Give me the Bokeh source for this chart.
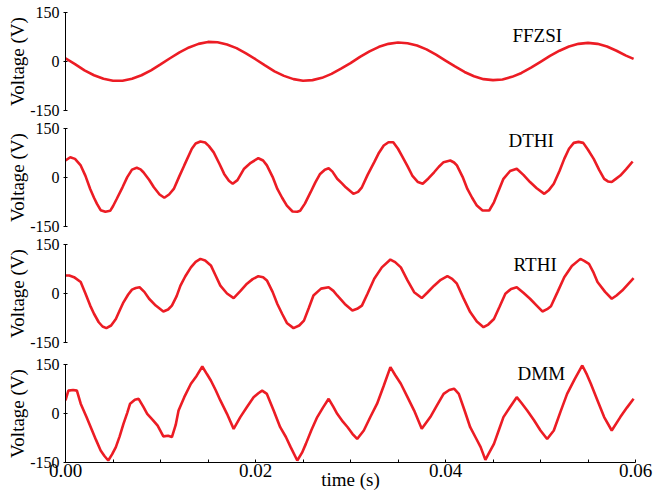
from bokeh.plotting import figure
from bokeh.layouts import column
from bokeh.models import Range1d, FixedTicker, PrintfTickFormatter, Label
from bokeh.embed import file_html
from bokeh.resources import INLINE

# ---------------- data (time in ms, voltage in V) ----------------
t_ffzsi = [0, 1, 2, 3, 4, 5, 6, 7, 8, 9, 10, 11, 12, 13, 14, 15, 16, 17, 18, 19,
           20, 21, 22, 23, 24, 25, 26, 27, 28, 29, 30, 31, 32, 33, 34, 35, 36, 37, 38, 39,
           40, 41, 42, 43, 44, 45, 46, 47, 48, 49, 50, 51, 52, 53, 54, 55, 56, 57, 58, 59, 59.8]
v_ffzsi = [10, -8, -27, -42, -53, -59, -59, -53, -42, -27, -9, 10, 28, 43, 54, 60, 59, 52, 41, 25,
           7, -12, -30, -44, -54, -59, -57, -50, -38, -22, -5, 14, 31, 45, 54, 58, 56, 49, 37, 21,
           3, -15, -32, -45, -54, -57, -55, -47, -35, -19, -1, 17, 33, 46, 54, 57, 54, 46, 33, 18, 8]

t_dthi = [0, 0.5, 1.0, 1.6, 2.1, 2.6, 3.0, 3.3, 3.7, 4.2, 4.7, 5.0, 5.4, 6.0, 6.5, 7.0, 7.5, 7.9,
          8.2, 8.8, 9.3, 9.9, 10.4, 10.9, 11.4, 12.0, 12.5, 13.3, 13.7, 14.2, 14.7, 15.1, 15.6,
          16.2, 16.7, 17.2, 17.6, 18.1, 18.8, 19.5, 20.3, 20.8, 21.2, 21.8, 22.3, 22.8, 23.3,
          23.9, 24.4, 24.7, 25.2, 25.8, 26.3, 26.8, 27.3, 27.7, 28.1, 28.6, 29.1, 29.5, 30.3,
          30.8, 31.2, 31.8, 32.5, 33.0, 33.5, 34.0, 34.5, 35.0, 35.4, 36.0, 36.5, 37.1, 37.6,
          38.2, 38.8, 39.3, 39.8, 40.5, 40.9, 41.2, 41.8, 42.3, 42.8, 43.3, 43.9, 44.6, 45.1,
          45.6, 46.1, 46.8, 47.5, 48.2, 48.9, 49.6, 50.4, 50.9, 51.4, 52.0, 52.5, 53.0, 53.5,
          54.0, 54.5, 55.0, 55.6, 56.2, 56.7, 57.1, 57.5, 57.9, 58.4, 59.0, 59.7]
v_dthi = [52, 62, 57, 37, 5, -35, -62, -80, -100, -105, -102, -88, -65, -30, 1, 24, 30, 25,
          16, -7, -30, -52, -62, -52, -35, 5, 37, 88, 104, 110, 107, 96, 77,
          42, 11, -10, -19, -8, 27, 45, 59, 52, 37, 2, -35, -62, -86,
          -104, -105, -102, -80, -45, -15, 11, 24, 28, 18, -4, -18, -30, -50,
          -44, -30, 8, 47, 76, 98, 108, 108, 88, 67, 35, 6, -14, -19,
          -3, 16, 33, 47, 52, 46, 37, 2, -35, -62, -86, -101, -101, -76,
          -40, -4, 20, 27, 8, -14, -33, -50, -38, -19, 20, 57, 88, 106,
          109, 106, 85, 57, 22, -4, -12, -14, -5, 6, 25, 49]

t_rthi = [0, 0.4, 0.9, 1.6, 2.1, 2.6, 3.0, 3.5, 3.9, 4.3, 4.8, 5.3, 5.7, 6.1, 6.6, 7.0, 7.4,
          7.8, 8.3, 8.8, 9.5, 10.3, 10.8, 11.2, 11.7, 12.1, 12.6, 13.2, 13.7, 14.2, 14.7, 15.3,
          15.8, 16.3, 17.0, 17.7, 18.4, 19.1, 19.7, 20.3, 20.8, 21.2, 21.8, 22.3, 22.8, 23.3,
          24.0, 24.6, 25.1, 25.6, 26.1, 26.9, 27.7, 28.2, 28.6, 29.4, 30.2, 30.7, 31.2, 31.8,
          32.5, 33.3, 34.2, 34.7, 35.3, 36.0, 36.7, 37.5, 38.1, 38.8, 39.5, 40.2, 40.7, 41.2,
          41.9, 42.6, 43.3, 44.0, 44.5, 45.1, 45.7, 46.3, 46.9, 47.5, 48.2, 48.9, 49.6, 50.2,
          50.7, 51.1, 51.8, 52.5, 53.3, 54.2, 54.6, 55.1, 55.6, 56.0, 56.8, 57.5, 58.0, 58.6,
          59.2, 59.8]
v_rthi = [55, 55, 50, 35, 0, -37, -62, -88, -101, -106, -98, -78, -52, -27, -3, 12, 17,
          19, 5, -16, -37, -55, -49, -37, -8, 24, 52, 80, 97, 106, 101, 86,
          55, 24, 0, -14, 7, 30, 44, 53, 50, 40, 5, -32, -62, -90,
          -106, -98, -83, -45, -6, 15, 19, 8, -6, -32, -52, -47, -37, 0,
          45, 80, 104, 96, 80, 40, 4, -14, 3, 24, 42, 53, 45, 30,
          -15, -57, -86, -103, -95, -78, -40, -1, 14, 19, 2, -16, -37, -55,
          -48, -39, 5, 50, 84, 106, 100, 91, 63, 35, 5, -16, -6, 9,
          28, 47]

t_dmm = [0, 0.3, 0.8, 1.2, 1.6, 2.2, 2.8, 3.2, 3.7, 4.1, 4.5, 4.9, 5.3, 5.7, 6.1, 6.5, 6.8,
         7.3, 7.7, 8.2, 8.6, 9.2, 9.7, 10.3, 10.8, 11.2, 11.6, 11.9, 12.5, 13.2, 13.8, 14.4,
         14.9, 15.3, 15.8, 16.3, 17.0, 17.7, 18.4, 19.1, 19.8, 20.3, 20.7, 21.2, 21.9, 22.6,
         23.2, 23.7, 24.4, 24.9, 25.3, 25.9, 26.5, 27.1, 27.7, 28.2, 28.6, 29.2, 29.7, 30.2,
         30.7, 31.4, 32.1, 32.8, 33.5, 34.2, 34.7, 35.3, 36.0, 36.7, 37.5, 38.4, 39.1, 39.8,
         40.4, 40.9, 41.4, 42.0, 42.6, 43.2, 43.7, 44.2, 44.6, 45.1, 45.6, 46.1, 46.8, 47.5,
         48.0, 48.6, 49.3, 50.0, 50.7, 51.4, 52.1, 52.8, 53.6, 54.4, 54.9, 55.3, 56.0, 56.7,
         57.5, 58.4, 59.1, 59.8]
v_dmm = [40, 70, 72, 70, 30, -10, -52, -80, -113, -130, -144, -125, -103, -70, -32, 2, 30,
         42, 45, 20, -1, -20, -37, -70, -68, -72, -35, 9, 50, 91, 115, 144,
         120, 101, 72, 40, -1, -47, -11, 20, 50, 62, 70, 60, 10, -42,
         -72, -103, -144, -120, -93, -50, -11, 18, 45, 20, -1, -25, -42, -62,
         -78, -52, -10, 30, 85, 142, 118, 91, 50, 9, -47, -11, 25, 60,
         72, 76, 60, 10, -42, -75, -103, -142, -120, -93, -52, -11, 20, 50,
         32, 9, -20, -52, -78, -52, 5, 60, 105, 147, 118, 91, 40, -11,
         -52, -11, 18, 45]

names = ["FFZSI", "DTHI", "RTHI", "DMM"]
name_pos_t = [0.04705, 0.04663, 0.04716, 0.04758]
name_pos_v = [80, 113, 90, 122]
y_title = "Voltage (V)"
x_title = "time (s)"

y_ticks = [-150, 0, 150]
x_major_ticks = [0.0, 0.02, 0.04, 0.06]
x_minor_ticks = [0.005, 0.01, 0.015, 0.025, 0.03, 0.035, 0.045, 0.05, 0.055]

series = [(t_ffzsi, v_ffzsi), (t_dthi, v_dthi), (t_rthi, v_rthi), (t_dmm, v_dmm)]

# ---------------- layout ----------------
RED = "#ec1c24"
FONT = "Liberation Serif"
heights = [119, 116, 118, 142]
b_top = [12, 9, 9, 11]
b_bot = [9, 9, 11, 33]
title_shift = [10, 8, 8, 7]

figs = []
for i, (tt, vv) in enumerate(series):
    last = i == len(series) - 1
    p = figure(width=659, height=heights[i],
               x_range=Range1d(0, 0.06), y_range=Range1d(-150, 150),
               output_backend="svg", toolbar_location=None,
               x_axis_location="below" if last else None,
               title=y_title, title_location="left",
               min_border_left=65, min_border_right=24,
               min_border_top=b_top[i], min_border_bottom=b_bot[i])
    p.outline_line_color = None
    p.grid.visible = False
    p.background_fill_color = "white"
    p.border_fill_color = "white"

    p.title.text_font = FONT
    p.title.text_font_size = "19px"
    p.title.text_font_style = "normal"
    p.title.text_color = "black"
    p.title.align = "center"
    p.title.offset = title_shift[i]
    p.title.standoff = 0

    p.line([t / 1000.0 for t in tt], vv, line_color=RED, line_width=2.6)

    ya = p.yaxis[0]
    ya.ticker = FixedTicker(ticks=y_ticks)
    ya.formatter = PrintfTickFormatter(format="%d")
    ya.major_label_text_font = FONT
    ya.major_label_text_font_size = "16px"
    ya.major_label_text_color = "black"
    ya.major_tick_in = 2
    ya.major_tick_out = 2
    ya.minor_tick_in = 0
    ya.minor_tick_out = 0
    ya.major_label_standoff = 4
    ya.axis_line_color = "black"
    ya.major_tick_line_color = "black"

    if last:
        xa = p.xaxis[0]
        xa.ticker = FixedTicker(ticks=x_major_ticks, minor_ticks=x_minor_ticks)
        xa.formatter = PrintfTickFormatter(format="%.2f")
        xa.major_label_text_font = FONT
        xa.major_label_text_font_size = "19px"
        xa.major_label_text_color = "black"
        xa.major_tick_in = 3
        xa.major_tick_out = 0
        xa.minor_tick_in = 3
        xa.minor_tick_out = 0
        xa.major_label_standoff = 1
        xa.axis_line_color = "black"
        xa.axis_label = x_title
        xa.axis_label_text_font = FONT
        xa.axis_label_text_font_size = "19px"
        xa.axis_label_text_font_style = "normal"
        xa.axis_label_text_color = "black"
        xa.axis_label_standoff = -11

    p.add_layout(Label(x=name_pos_t[i], y=name_pos_v[i], text=names[i], text_font=FONT,
                       text_font_size="19px", text_align="left",
                       text_baseline="middle", text_color="black"))
    figs.append(p)

layout = column(*figs, spacing=0)
open("out.html", "w").write(file_html(layout, INLINE))
